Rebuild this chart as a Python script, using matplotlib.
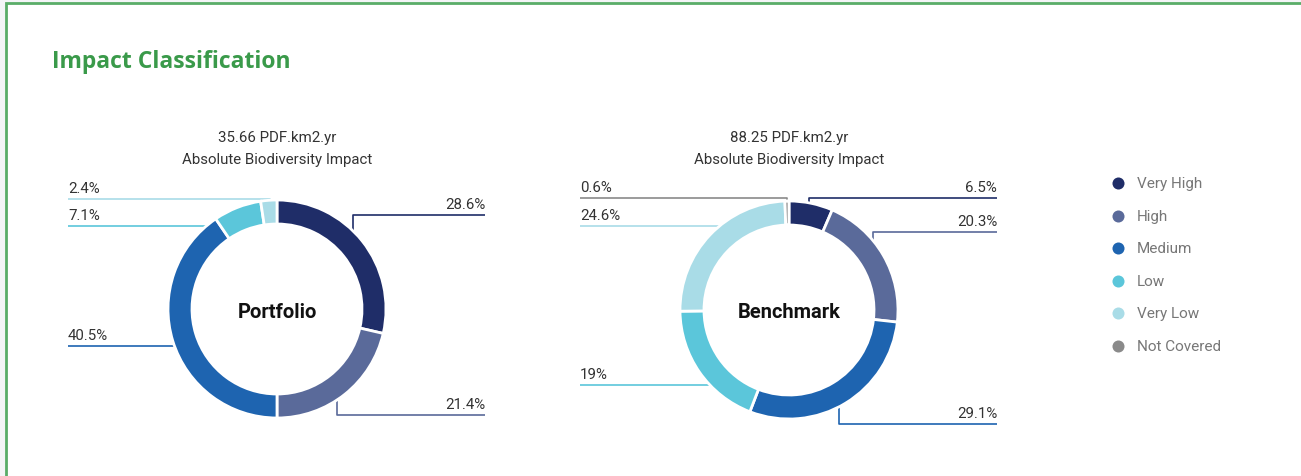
import matplotlib

matplotlib.use("Agg")
import matplotlib.pyplot as plt
from matplotlib.patches import Rectangle
import numpy as np

# data
categories = ["Very High", "High", "Medium", "Low", "Very Low", "Not Covered"]
colors = ["#1f2d68", "#5a6a9a", "#1e64b0", "#5bc6da", "#a9dce7", "#8a8a8a"]

portfolio_pct = [28.6, 21.4, 40.5, 7.1, 2.4, 0.0]
benchmark_pct = [6.5, 20.3, 29.1, 19.0, 24.6, 0.6]
portfolio_total = "35.66 PDF.km2.yr"
benchmark_total = "88.25 PDF.km2.yr"

# layout (pixel space, y measured from top)
W, H = 1301, 477
charts = [
    dict(name="Portfolio", total=portfolio_total, values=portfolio_pct,
         cx=277, cy=310, left_x=68, right_x=485,
         line_y=[216, 416, 347, 227, 200, None]),
    dict(name="Benchmark", total=benchmark_total, values=benchmark_pct,
         cx=789, cy=311, left_x=580, right_x=997,
         line_y=[199, 233, 425, 386, 227, 199]),
]
R_OUT, RING = 109, 24
R_ANCHOR = 97


def fy(y):
    return H - y


fig = plt.figure(figsize=(W / 100, H / 100), dpi=100, facecolor="#f4f5f7")
ax = fig.add_axes([0, 0, 1, 1])
ax.set_axis_off()

# card frame
ax.add_patch(Rectangle((6, fy(500)), 1400, 496, facecolor="white",
                       edgecolor="#5aad68", linewidth=2, zorder=0))

ax.text(52, fy(62), "Impact Classification", color="#3a9a4a",
        fontsize=16.5, fontweight="bold", family="Open Sans",
        va="center", ha="left")

for ch in charts:
    vals = [v for v in ch["values"]]
    keep = [i for i, v in enumerate(vals) if v > 0]
    wedges, _ = ax.pie(
        [vals[i] for i in keep],
        colors=[colors[i] for i in keep],
        center=(ch["cx"], fy(ch["cy"])),
        radius=R_OUT,
        startangle=90,
        counterclock=False,
        wedgeprops=dict(width=RING, edgecolor="white", linewidth=2),
    )
    for w in wedges:
        w.set_zorder(3)

    for w, i in zip(wedges, keep):
        ly = ch["line_y"][i]
        mid = np.deg2rad((w.theta1 + w.theta2) / 2)
        ax_x = ch["cx"] + R_ANCHOR * np.cos(mid)
        ax_y = fy(ch["cy"]) + R_ANCHOR * np.sin(mid)
        if np.cos(mid) >= 0:
            end_x, ha = ch["right_x"], "right"
        else:
            end_x, ha = ch["left_x"], "left"
        ax.plot([ax_x, ax_x, end_x], [ax_y, fy(ly), fy(ly)],
                color=colors[i], lw=1.2, zorder=2, solid_capstyle="butt")
        ax.text(end_x, fy(ly - 11), f"{ch['values'][i]:g}%", ha=ha,
                va="center", fontsize=10.8, color="#333333", family="Roboto")

    ax.text(ch["cx"], fy(ch["cy"] + 2), ch["name"], ha="center", va="center",
            fontsize=14.5, fontweight="bold", family="Roboto", color="#111111",
            zorder=4)
    ax.text(ch["cx"], fy(138), ch["total"], ha="center", va="center",
            fontsize=10.8, family="Roboto", color="#333333")
    ax.text(ch["cx"], fy(160), "Absolute Biodiversity Impact", ha="center",
            va="center", fontsize=10.8, family="Roboto", color="#333333")

# legend
for k, (cat, col) in enumerate(zip(categories, colors)):
    y = 184 + 32.6 * k
    ax.scatter([1118], [fy(y)], s=75, color=col, zorder=3, linewidths=0)
    ax.text(1137, fy(y), cat, ha="left", va="center", fontsize=11,
            family="Roboto", color="#777777")

ax.set_xlim(0, W)
ax.set_ylim(0, H)
ax.set_aspect("auto")

fig.savefig("out.png", dpi=100, facecolor=fig.get_facecolor())
